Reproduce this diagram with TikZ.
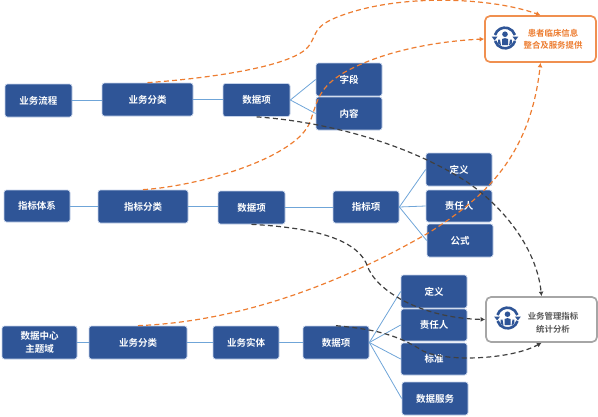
\documentclass[tikz,border=0pt]{standalone}
\usepackage{fontspec}
\setmainfont[BoldFont={Noto Sans CJK SC Bold}]{Noto Sans CJK SC}
\usetikzlibrary{arrows.meta}
\definecolor{boxblue}{HTML}{2F5597}
\definecolor{boxedge}{HTML}{C5D3EA}
\definecolor{linkblue}{HTML}{6FA5D8}
\definecolor{orangeline}{HTML}{ED7D31}
\definecolor{darkline}{HTML}{404040}
\definecolor{grayedge}{HTML}{A6A6A6}
\definecolor{graytext}{HTML}{595959}
\tikzset{
  x=1pt,y=-1pt,
  bx/.style={draw=boxedge,line width=0.7pt,fill=boxblue,rounded corners=2.5pt,text=white,font=\fontsize{9.5}{13}\selectfont\bfseries,align=center,inner sep=0pt,anchor=center},
  link/.style={draw=linkblue,line width=0.8pt},
  odash/.style={draw=orangeline,line width=1.2pt,dash pattern=on 5pt off 3.2pt,-{Latex[length=4.5pt,width=5pt]}},
  kdash/.style={draw=darkline,line width=1.2pt,dash pattern=on 5pt off 3.2pt,-{Latex[length=4.5pt,width=5pt]}},
  target/.style={fill=white,rounded corners=5pt,line width=1.7pt,inner sep=0pt},
  tlabel/.style={font=\fontsize{8.4}{12.5}\selectfont\bfseries,align=center,inner sep=0pt},
  pics/crest/.style={code={
    \draw[boxblue,line width=2.6pt] (-10,-3) arc[start angle=197,end angle=343,radius=10.4];
    \draw[boxblue,line width=2.6pt] (10,3) arc[start angle=17,end angle=163,radius=10.4];
    \fill[boxblue] (-13.4,-1.5) -- (-7.4,-1.5) -- (-10.4,2.5) -- cycle;
    \fill[boxblue] (13.4,-1.5) -- (7.4,-1.5) -- (10.4,2.5) -- cycle;
    \fill[boxblue] (0,-3.8) circle[radius=2.8];
    \fill[boxblue] (-3,7) -- (-3,1) to[bend left=30] (3,1) -- (3,7) -- cycle;
    \fill[boxblue] (-6.8,5.5) -- (-6.8,1.5) -- (-5,1.5) -- (-4,7.5) -- cycle;
    \fill[boxblue] (6.8,5.5) -- (6.8,1.5) -- (5,1.5) -- (4,7.5) -- cycle;
  }}
}
\begin{document}
\begin{tikzpicture}
\useasboundingbox (0,0) rectangle (598,416);
% row 1
\node[bx,minimum width=67pt,minimum height=33pt] (lc) at (38.5,100.5) {业务流程};
\node[bx,minimum width=91pt,minimum height=33pt] (fl1) at (147.5,99.5) {业务分类};
\node[bx,minimum width=67pt,minimum height=33pt] (sj1) at (256.5,100) {数据项};
\node[bx,minimum width=66pt,minimum height=33pt] (zd) at (349,79.5) {字段};
\node[bx,minimum width=66pt,minimum height=33pt] (nr) at (349,113.5) {内容};
% row 2
\node[bx,minimum width=66pt,minimum height=32pt] (tx) at (37,206) {指标体系};
\node[bx,minimum width=90pt,minimum height=33pt] (fl2) at (143,206.5) {指标分类};
\node[bx,minimum width=67pt,minimum height=33pt] (sj2) at (251.5,207.5) {数据项};
\node[bx,minimum width=66pt,minimum height=32pt] (zb) at (366,207) {指标项};
\node[bx,minimum width=66pt,minimum height=33pt] (dy1) at (459,169.5) {定义};
\node[bx,minimum width=66pt,minimum height=32pt] (zr1) at (459,206) {责任人};
\node[bx,minimum width=66pt,minimum height=33pt] (gs) at (460,240.5) {公式};
% row 3
\node[bx,minimum width=75pt,minimum height=33pt] (zt) at (39.5,342.5) {数据中心\\主题域};
\node[bx,minimum width=98pt,minimum height=33pt] (fl3) at (138,342.5) {业务分类};
\node[bx,minimum width=66pt,minimum height=33pt] (st) at (246,342.5) {业务实体};
\node[bx,minimum width=66pt,minimum height=33pt] (sj3) at (336,342.5) {数据项};
\node[bx,minimum width=66pt,minimum height=33pt] (dy2) at (434,291.5) {定义};
\node[bx,minimum width=66pt,minimum height=32pt] (zr2) at (434,325) {责任人};
\node[bx,minimum width=66pt,minimum height=32pt] (bz) at (434,359) {标准};
\node[bx,minimum width=66pt,minimum height=33pt] (fw) at (435,398.5) {数据服务};
% targets
\node[target,draw=orangeline!85!white,minimum width=111pt,minimum height=46pt] (hz) at (540.5,39) {};
\node[tlabel,text=orangeline] (hzt) at (553,39.5) {患者临床信息\\整合及服务提供};
\pic at (505,38) {crest};
\node[target,draw=grayedge,minimum width=111pt,minimum height=45pt] (gl) at (541.5,319.5) {};
\node[tlabel,text=graytext] (glt) at (553,323) {业务管理指标\\统计分析};
\pic at (507.5,318) {crest};
% links
\draw[link] (lc.east) -- (lc.east -| fl1.west);
\draw[link] (fl1.east) -- (fl1.east -| sj1.west);
\draw[link] (sj1.east) -- (zd.west);
\draw[link] (sj1.east) -- (nr.west);
\draw[link] (tx.east) -- (tx.east -| fl2.west);
\draw[link] (fl2.east) -- (fl2.east -| sj2.west);
\draw[link] (sj2.east) -- (sj2.east -| zb.west);
\draw[link] (zb.east) -- (dy1.west);
\draw[link] (zb.east) -- (zr1.west);
\draw[link] (zb.east) -- (gs.west);
\draw[link] (zt.east) -- (fl3.west);
\draw[link] (fl3.east) -- (st.west);
\draw[link] (st.east) -- (sj3.west);
\draw[link] (sj3.east) -- (dy2.west);
\draw[link] (sj3.east) -- (zr2.west);
\draw[link] (sj3.east) -- (bz.west);
\draw[link] (sj3.east) -- (fw.west);
% orange dashed
\draw[odash] (fl1.north) .. controls (200,79) and (290,68) .. (308,47)
  .. controls (318,34) and (312,28) .. (335,18)
  .. controls (395,-7) and (490,-3) .. (hz.north);
\draw[odash] (fl2.north) .. controls (200,186) and (296,158) .. (310,122)
  .. controls (318,100) and (318,88) .. (345,72)
  .. controls (385,50) and (440,41) .. (hz.west);
\draw[odash] (fl3.north) .. controls (230,322) and (330,290) .. (430,232)
  .. controls (480,200) and (530,160) .. (hz.south);
% black dashed
\draw[kdash] (sj1.south) .. controls (330,122) and (410,145) .. (467,182)
  .. controls (505,208) and (537,250) .. (gl.north);
\draw[kdash] (sj2.south) .. controls (300,227) and (355,235) .. (367,265)
  .. controls (375,290) and (420,318) .. (gl.west);
\draw[kdash] (sj3.north) .. controls (370,329) and (395,333) .. (423,351)
  .. controls (445,362) and (510,360) .. (gl.south);
\end{tikzpicture}
\end{document}
